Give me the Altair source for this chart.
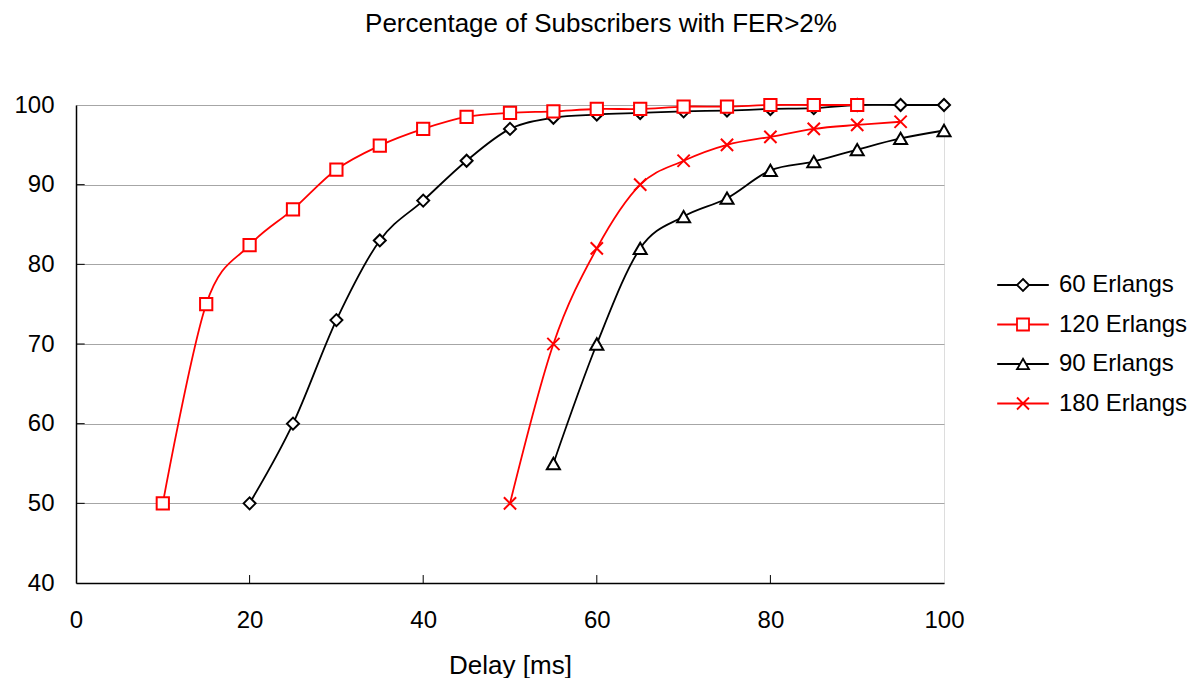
import altair as alt
import pandas as pd

# ---- data ----
series_names = ["60 Erlangs", "120 Erlangs", "90 Erlangs", "180 Erlangs"]
series_colors = ["#000000", "#ff0000", "#000000", "#ff0000"]

delay_60 = [20, 25, 30, 35, 40, 45, 50, 55, 60, 65, 70, 75, 80, 85, 90, 95, 100]
pct_60 = [50, 60, 73, 83, 88, 93, 97, 98.4, 98.8, 99.0, 99.2, 99.3, 99.5, 99.6, 100, 100, 100]

delay_120 = [10, 15, 20, 25, 30, 35, 40, 45, 50, 55, 60, 65, 70, 75, 80, 85, 90]
pct_120 = [50, 75, 82.4, 86.9, 91.9, 94.9, 97, 98.5, 99.0, 99.2, 99.5, 99.5, 99.8, 99.8, 100, 100, 100]

delay_90 = [55, 60, 65, 70, 75, 80, 85, 90, 95, 100]
pct_90 = [55, 70, 82, 86, 88.3, 91.8, 92.9, 94.4, 95.8, 96.8]

delay_180 = [50, 55, 60, 65, 70, 75, 80, 85, 90, 95]
pct_180 = [50, 70, 82, 90, 93, 95, 96, 97, 97.5, 97.9]

x_tick_values = [0, 20, 40, 60, 80, 100]
y_tick_values = [40, 50, 60, 70, 80, 90, 100]

# ---- build table ----
rows = []
for name, xs, ys in [
    ("60 Erlangs", delay_60, pct_60),
    ("120 Erlangs", delay_120, pct_120),
    ("90 Erlangs", delay_90, pct_90),
    ("180 Erlangs", delay_180, pct_180),
]:
    for xv, yv in zip(xs, ys):
        rows.append({"series": name, "delay": xv, "pct": yv})
df = pd.DataFrame(rows)

FONT = "Liberation Sans"

x_scale = alt.Scale(domain=[0, 100], nice=False, zero=False)
y_scale = alt.Scale(domain=[40, 100], nice=False, zero=False)

x_enc = alt.X("delay:Q", scale=x_scale,
              axis=alt.Axis(title="Delay [ms]", values=x_tick_values, grid=False,
                            tickSize=0, labelPadding=25, titlePadding=20,
                            labelFlush=False,
                            domainColor="#000000", domainWidth=1.5,
                            labelFontSize=24, titleFontSize=26,
                            labelFont=FONT, titleFont=FONT,
                            titleFontWeight="normal", labelColor="#000", titleColor="#000"))
y_enc = alt.Y("pct:Q", scale=y_scale,
              axis=alt.Axis(title=None, values=y_tick_values, grid=True,
                            gridColor="#a6a6a6", gridWidth=1,
                            tickSize=0, labelPadding=22, labelFlush=False,
                            domainColor="#000000", domainWidth=1.5,
                            labelFontSize=24, labelFont=FONT, labelColor="#000"))

base = alt.Chart(df)

marker_shapes = {
    "60 Erlangs": "diamond",
    "120 Erlangs": "square",
    "90 Erlangs": "triangle-up",
    "180 Erlangs": "M-1,-1L1,1M-1,1L1,-1",
}
marker_sizes = {"60 Erlangs": 144, "120 Erlangs": 150, "90 Erlangs": 170, "180 Erlangs": 150}

layers = []
for name, col in zip(series_names, series_colors):
    sub = base.transform_filter(alt.datum.series == name)
    layers.append(
        sub.mark_line(interpolate="cardinal", tension=0, strokeWidth=1.8, color=col).encode(
            x=x_enc, y=y_enc)
    )
for name, col in zip(series_names, series_colors):
    sub = base.transform_filter(alt.datum.series == name)
    layers.append(
        sub.mark_point(shape=marker_shapes[name], size=marker_sizes[name], filled=False,
                       stroke=col, fill="white", fillOpacity=1, opacity=1,
                       strokeWidth=2).encode(x="delay:Q", y="pct:Q")
    )

legend_paths = [
    "M-4.3,0H-1M1,0H4.3M0,-1L1,0L0,1L-1,0Z",
    "M-4.3,0H-1M1,0H4.3M-1,-1H1V1H-1Z",
    "M-4.3,0H-0.5M0.5,0H4.3M0,-0.87L1,0.87L-1,0.87Z",
    "M-4.3,0H4.3M-1,-1L1,1M-1,1L1,-1",
]

legend_spec = alt.Legend(title=None, orient="none", legendX=935, legendY=168,
                         symbolSize=144, symbolStrokeWidth=1.8,
                         symbolFillColor="white",
                         labelFontSize=24, labelFont=FONT, labelColor="#000",
                         labelOffset=24, rowPadding=15.5, padding=0)

legend_layer = base.transform_filter("datum.delay > 1000").mark_point(
    filled=False, fill="white", fillOpacity=1, opacity=1, strokeWidth=2, size=144,
).encode(
    x="delay:Q", y="pct:Q",
    color=alt.Color("series:N", scale=alt.Scale(domain=series_names, range=series_colors),
                    legend=legend_spec),
    shape=alt.Shape("series:N", scale=alt.Scale(domain=series_names, range=legend_paths),
                    legend=legend_spec),
)
layers.append(legend_layer)

xt = pd.DataFrame({"t": x_tick_values[1:-1]})
yt = pd.DataFrame({"t": y_tick_values[1:-1]})
layers.append(alt.Chart(xt).mark_rule(color="#000", strokeWidth=1).encode(
    x="t:Q", y=alt.datum(40), y2=alt.datum(41)))
layers.append(alt.Chart(yt).mark_rule(color="#000", strokeWidth=1).encode(
    y="t:Q", x=alt.datum(0), x2=alt.datum(1)))

chart = alt.layer(*layers).properties(
    width=868, height=478,
    padding={"left": 5, "top": 3, "right": 0, "bottom": 0},
    title=alt.TitleParams("Percentage of Subscribers with FER>2%", font=FONT, fontSize=26,
                          fontWeight="normal", color="#000", anchor="middle",
                          frame="bounds", offset=56),
).configure_view(stroke="#808080", strokeWidth=1.5).configure(background="white")

chart.save("out.html", embed_options={"renderer": "svg", "actions": False})
